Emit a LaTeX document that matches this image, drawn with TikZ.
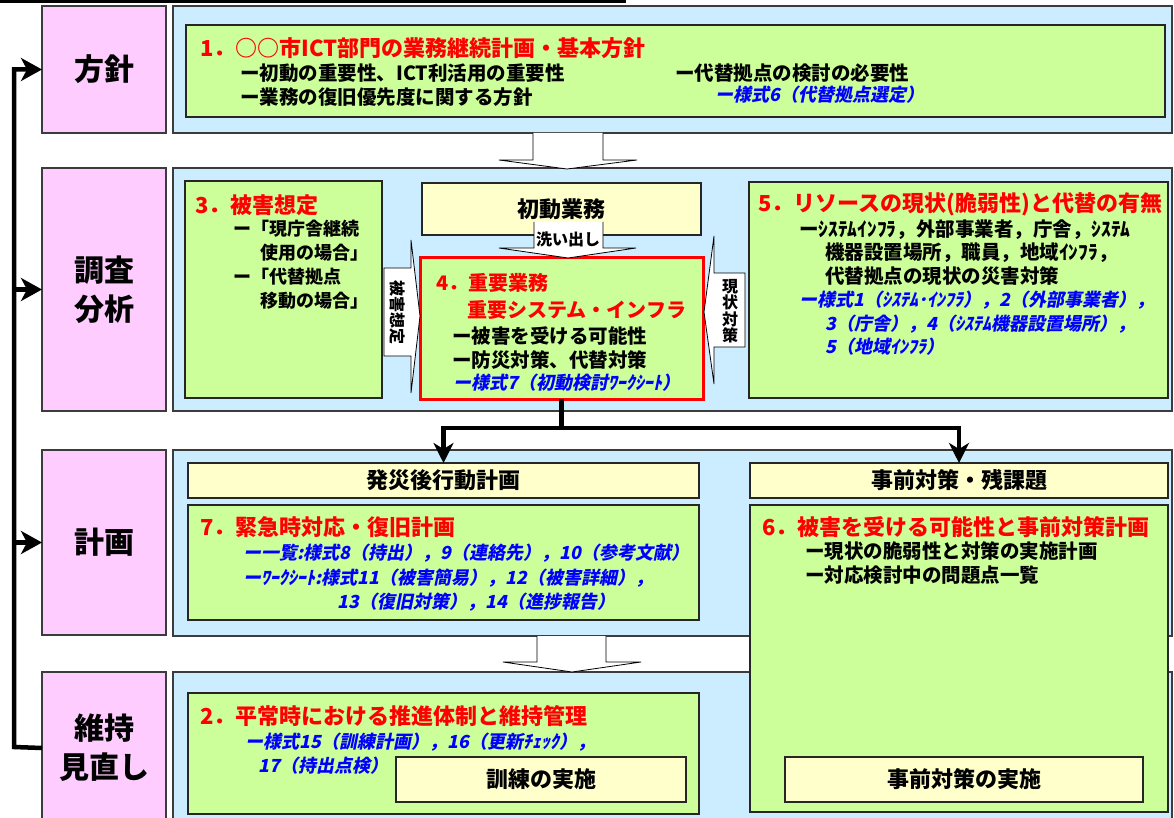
\documentclass[tikz,border=0pt]{standalone}
\usepackage{fontspec}
\setmainfont{Noto Sans CJK JP}
\newfontfamily\jpit{Noto Sans CJK JP}[FakeSlant=0.2]
\usetikzlibrary{arrows.meta}
\definecolor{pinkc}{RGB}{255,204,255}
\definecolor{bluec}{RGB}{204,236,255}
\definecolor{greenc}{RGB}{204,255,153}
\definecolor{yellowc}{RGB}{255,255,204}
\definecolor{redt}{RGB}{255,0,0}
\definecolor{bluet}{RGB}{0,0,255}
\definecolor{edgec}{RGB}{60,60,60}
\tikzset{
  boxbase/.style={inner sep=0pt, outer sep=0pt, anchor=north west},
  pinkbox/.style={boxbase, draw=edgec, line width=1.2pt, fill=pinkc, align=center,
    font=\bfseries\fontsize{30}{39}\selectfont},
  panel/.style={boxbase, draw=edgec, line width=1.2pt, fill=bluec},
  greenbox/.style={boxbase, draw=black!85, line width=1.2pt, fill=greenc},
  redbox/.style={boxbase, draw=redt, line width=3pt, fill=greenc},
  yellowbox/.style={boxbase, draw=black!85, line width=1.2pt, fill=yellowc,
    font=\bfseries\fontsize{22}{26}\selectfont},
  ttl/.style={anchor=west, inner sep=0pt, text=redt, font=\bfseries\fontsize{22}{25}\selectfont},
  ttlsmall/.style={ttl, font=\bfseries\fontsize{20}{23}\selectfont},
  bodytxt/.style={anchor=west, inner sep=0pt, font=\bfseries\fontsize{19.5}{22}\selectfont},
  formtxt/.style={anchor=west, inner sep=0pt, text=bluet, font=\jpit\bfseries\fontsize{18}{21}\selectfont},
  arrowtxt/.style={inner sep=0pt, font=\bfseries\fontsize{16}{17}\selectfont},
  hollow/.style={fill=white, draw=black, line width=0.8pt, line join=miter},
  heavy/.style={line width=4.5pt, line join=miter},
  bigtip/.style={-{Stealth[length=21pt,width=23pt,inset=6pt]}}
}
\begin{document}
\begin{tikzpicture}[x=1pt,y=-1pt]
\useasboundingbox (0,0) rectangle (1174,818);
\fill (0,0) rectangle (626,3);
% blue panels
\node[panel, minimum width=999pt, minimum height=127pt] (b1) at (173,6) {};
\node[panel, minimum width=999pt, minimum height=243pt] (b2) at (173,168) {};
\node[panel, minimum width=999pt, minimum height=186pt] (b3) at (173,450) {};
\node[panel, minimum width=999pt, minimum height=152pt] (b4) at (173,672) {};
% pink stage boxes
\node[pinkbox, minimum width=124pt, minimum height=127pt] (p1) at (42,6) {方針};
\node[pinkbox, minimum width=124pt, minimum height=243pt] (p2) at (42,168) {調査\\分析};
\node[pinkbox, minimum width=124pt, minimum height=185pt] (p3) at (42,450) {計画};
\node[pinkbox, minimum width=124pt, minimum height=152pt] (p4) at (42,672) {維持\\見直し};
% hollow arrows between rows
\fill[white] (533,133) -- (533,160) -- (499,160) -- (567,169) -- (637,160) -- (603,160) -- (603,133) -- cycle;
\draw[hollow, fill=none] (533,133) -- (533,160) -- (499,160) -- (567,169) -- (637,160) -- (603,160) -- (603,133);
\fill[white] (537,636) -- (537,662) -- (503,662) -- (572,672) -- (641,662) -- (606,662) -- (606,636) -- cycle;
\draw[hollow, fill=none] (537,636) -- (537,662) -- (503,662) -- (572,672) -- (641,662) -- (606,662) -- (606,636);
% green boxes
\node[greenbox, minimum width=979pt, minimum height=92pt] (g1) at (186,25) {};
\node[greenbox, minimum width=197pt, minimum height=217pt] (g3) at (185,181) {};
\node[greenbox, minimum width=419pt, minimum height=216pt] (g5) at (749,182) {};
\node[greenbox, minimum width=511pt, minimum height=115pt] (g7) at (188,505) {};
\node[greenbox, minimum width=418pt, minimum height=307pt] (g6) at (750,505) {};
\node[greenbox, minimum width=511pt, minimum height=121pt] (g2) at (188,693) {};
% yellow boxes
\node[yellowbox, minimum width=279pt, minimum height=52pt] (y1) at (422,183) {初動業務};
\node[yellowbox, minimum width=511pt, minimum height=35pt] (y2) at (188,463) {発災後行動計画};
\node[yellowbox, minimum width=418pt, minimum height=35pt] (y3) at (750,463) {事前対策・残課題};
\node[yellowbox, minimum width=290pt, minimum height=45pt] (y4) at (396,757) {訓練の実施};
\node[yellowbox, minimum width=358pt, minimum height=45pt] (y5) at (785,757) {事前対策の実施};
% red box 4
\node[redbox, minimum width=283pt, minimum height=142pt] (g4) at (420,257) {};
% arrow 洗い出し
\fill[white] (534,222) -- (534,248) -- (499,248) -- (568,258) -- (636,248) -- (603,248) -- (603,222) -- cycle;
\draw[hollow, fill=none] (534,222) -- (534,248) -- (499,248) -- (568,258) -- (636,248) -- (603,248) -- (603,222);
\node[arrowtxt] (a1) at (568,239) {洗い出し};
% arrow 被害想定
\draw[hollow] (384,268) -- (411,268) -- (411,240) -- (420,316) -- (411,393) -- (411,356) -- (384,356) -- cycle;
\node[arrowtxt, rotate=-90] (a2) at (398,312) {被害想定};
% arrow 現状対策
\draw[hollow] (745,273) -- (714,273) -- (714,236) -- (704,312) -- (714,384) -- (714,347) -- (745,347) -- cycle;
\node[arrowtxt, align=center, font=\bfseries\fontsize{16}{16.5}\selectfont] (a3) at (730,311) {現\\状\\対\\策};
% texts row 1
\node[ttl] (t1) at (200,48) {1．○○市ICT部門の業務継続計画・基本方針};
\node[bodytxt] (t1a) at (240,73) {ー初動の重要性、ICT利活用の重要性};
\node[bodytxt] (t1b) at (240,97) {ー業務の復旧優先度に関する方針};
\node[bodytxt] (t1c) at (675,73) {ー代替拠点の検討の必要性};
\node[formtxt] (t1d) at (715,95) {ー様式6（代替拠点選定）};
% texts box 3
\node[ttl] (t3) at (195,205) {3．被害想定};
\node[bodytxt, font=\bfseries\fontsize{18}{21}\selectfont] (t3a) at (233,229) {ー「現庁舎継続};
\node[bodytxt, font=\bfseries\fontsize{18}{21}\selectfont] (t3b) at (260,253) {使用の場合」};
\node[bodytxt, font=\bfseries\fontsize{18}{21}\selectfont] (t3c) at (233,277) {ー「代替拠点};
\node[bodytxt, font=\bfseries\fontsize{18}{21}\selectfont] (t3d) at (260,301) {移動の場合」};
% texts box 4
\node[ttlsmall] (t4) at (436,283) {4．重要業務};
\node[ttlsmall] (t4a) at (467,310) {重要システム・インフラ};
\node[bodytxt] (t4b) at (452,336) {ー被害を受ける可能性};
\node[bodytxt] (t4c) at (452,360) {ー防災対策、代替対策};
\node[formtxt] (t4d) at (453,383) {ー様式7（初動検討ﾜｰｸｼｰﾄ）};
% texts box 5
\node[ttl] (t5) at (758,204) {5．リソースの現状(脆弱性)と代替の有無};
\node[bodytxt] (t5a) at (799,230) {ーｼｽﾃﾑｲﾝﾌﾗ，外部事業者，庁舎，ｼｽﾃﾑ};
\node[bodytxt] (t5b) at (825,253) {機器設置場所，職員，地域ｲﾝﾌﾗ，};
\node[bodytxt] (t5c) at (825,276) {代替拠点の現状の災害対策};
\node[formtxt] (t5d) at (799,300) {ー様式1（ｼｽﾃﾑ･ｲﾝﾌﾗ），2（外部事業者），};
\node[formtxt] (t5e) at (825,324) {3（庁舎），4（ｼｽﾃﾑ機器設置場所），};
\node[formtxt] (t5f) at (825,347) {5（地域ｲﾝﾌﾗ）};
% texts box 7
\node[ttl] (t7) at (200,527) {7．緊急時対応・復旧計画};
\node[formtxt] (t7a) at (243,553) {ー一覧:様式8（持出），9（連絡先），10（参考文献）};
\node[formtxt] (t7b) at (243,578) {ーﾜｰｸｼｰﾄ:様式11（被害簡易），12（被害詳細），};
\node[formtxt] (t7c) at (337,602) {13（復旧対策），14（進捗報告）};
% texts box 6
\node[ttl] (t6) at (762,527) {6．被害を受ける可能性と事前対策計画};
\node[bodytxt] (t6a) at (805,551) {ー現状の脆弱性と対策の実施計画};
\node[bodytxt] (t6b) at (805,575) {ー対応検討中の問題点一覧};
% texts box 2
\node[ttl] (t2) at (200,716) {2．平常時における推進体制と維持管理};
\node[formtxt] (t2a) at (245,742) {ー様式15（訓練計画），16（更新ﾁｪｯｸ），};
\node[formtxt] (t2b) at (258,766) {17（持出点検）};
% heavy connectors from box 4
\draw[heavy] (g4.south) -- ++(0,29) coordinate (split);
\draw[heavy, -{Stealth[length=20pt,width=20pt,inset=6pt]}] (split) -| (y2.north);
\draw[heavy, -{Stealth[length=20pt,width=20pt,inset=6pt]}] (split) -| (y3.north);
% feedback loop
\coordinate (lb) at (14,747);
\draw[heavy, bigtip] (p4.west) -- (lb) |- (p1.west);
\draw[heavy, bigtip] (lb |- p2.west) -- (p2.west);
\draw[heavy, bigtip] (lb |- p3.west) -- (p3.west);
\end{tikzpicture}
\end{document}
